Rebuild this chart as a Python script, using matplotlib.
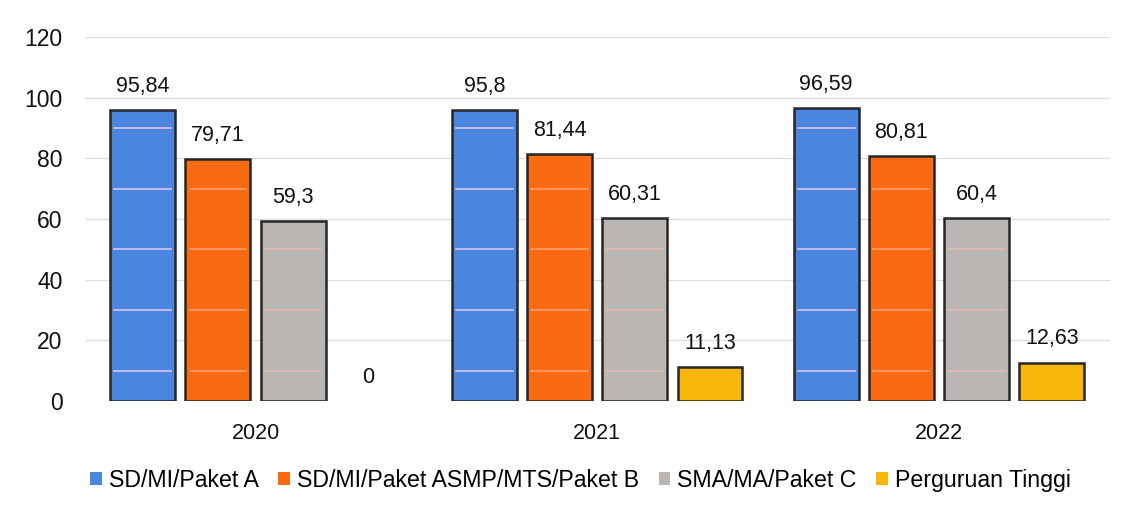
import numpy as np
import matplotlib
matplotlib.use("Agg")
import matplotlib.pyplot as plt

# === Data ===
years = ["2020", "2021", "2022"]
series = ["SD/MI/Paket A", "SD/MI/Paket ASMP/MTS/Paket B", "SMA/MA/Paket C", "Perguruan Tinggi"]
sd = [95.84, 95.8, 96.59]
smp = [79.71, 81.44, 80.81]
sma = [59.3, 60.31, 60.4]
pt = [0, 11.13, 12.63]
labels = [["95,84", "95,8", "96,59"],
          ["79,71", "81,44", "80,81"],
          ["59,3", "60,31", "60,4"],
          ["0", "11,13", "12,63"]]
colors = ["#4a86e0", "#f96a12", "#bab6b4", "#f8b50a"]
stripe_colors = ["#d9c3f2", "#f7a070", "#e3b6b2", "#f8b50a"]

plt.rcParams["font.family"] = ["Liberation Sans", "DejaVu Sans"]
FS = 15.5

fig = plt.figure(figsize=(11.29, 5.08), dpi=100)
ax = fig.add_axes([0.075, 0.211, 0.908, 0.716])

x = np.arange(len(years))
step = 0.22
width = 0.19
values = [sd, smp, sma, pt]

for i, (name, vals) in enumerate(zip(series, values)):
    pos = x + (i - 1.5) * step
    lw = [1.8 if v > 0 else 0 for v in vals]
    bars = ax.bar(pos, vals, width, color=colors[i], edgecolor="#262626",
                  linewidth=lw, label=name, zorder=3)
    # faint horizontal stripes inside bars
    for b in bars:
        h = b.get_height()
        for s in [10, 30, 50, 70, 90]:
            if s < h - 2 and i < 3:
                ax.plot([b.get_x() + 0.012, b.get_x() + b.get_width() - 0.012], [s, s],
                        color=stripe_colors[i], lw=1.2, zorder=4)
    for b, lab in zip(bars, labels[i]):
        ax.annotate(lab, (b.get_x() + b.get_width() / 2, b.get_height()),
                    xytext=(0, 17), textcoords="offset points",
                    ha="center", va="center", fontsize=FS, color="#111111")

ax.set_xlim(-0.5, 2.5)
ax.set_ylim(0, 120)
ax.set_yticks(range(0, 121, 20))
ax.set_xticks(x)
ax.set_xticklabels(years)
ax.tick_params(axis="both", length=0, labelsize=FS, colors="#111111")
ax.tick_params(axis="y", labelsize=16.5, pad=16)
ax.tick_params(axis="x", pad=16)
ax.grid(axis="y", color="#dcdcdc", linewidth=0.9, zorder=0)
for sp in ax.spines.values():
    sp.set_visible(False)

leg = fig.legend(loc="center", bbox_to_anchor=(0.514, 0.055), ncol=4, frameon=False,
                 fontsize=16.7, handlelength=0.5, handleheight=0.5,
                 handletextpad=0.3, columnspacing=0.85)
for h in leg.legend_handles:
    h.set_edgecolor("none")

plt.savefig("out.png", dpi=100)
